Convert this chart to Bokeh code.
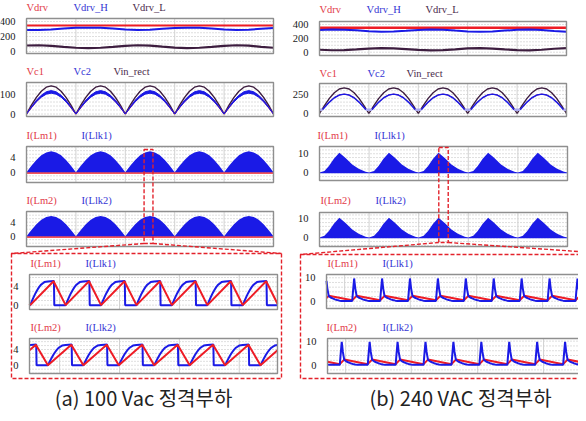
import numpy as np
from bokeh.plotting import figure
from bokeh.models import Range1d
from bokeh.embed import file_html
from bokeh.resources import INLINE
from bokeh.core.properties import value

# ===================== DATA =====================
# full-scale panels: time in ms, 5 rectified half cycles of 10 ms each
t_slow = [0, 2.5, 5, 7.5, 10, 12.5, 15, 17.5, 20, 22.5, 25, 27.5, 30, 32.5,
          35, 37.5, 40, 42.5, 45, 47.5, 50]
t_flat = [0, 50]
hump_phase = [0, 1, 2, 3, 4, 5, 6, 7, 8, 9, 10]

# ---- (a) 100 Vac ----
a_vdrv = [347, 347]
a_vdrv_h = [288, 285, 292, 305, 315, 318, 315, 305, 292, 285, 290, 303, 314,
            318, 315, 305, 292, 285, 290, 304, 314]
a_vdrv_l = [80, 83, 76, 62, 50, 45, 50, 62, 76, 83, 78, 64, 51, 45, 50, 62,
            76, 83, 77, 62, 50]
a_vin = [0, 44, 83, 114, 134, 141, 134, 114, 83, 44, 0]
a_vc1 = [0, 33, 64, 88, 104, 110, 104, 88, 64, 33, 0]
a_vc2_hi = [0, 36, 69, 94, 111, 117, 111, 94, 69, 36, 0]
a_vc2_lo = [0, 32, 61, 84, 99, 104, 99, 84, 61, 32, 0]
a_ilk_env = [0, 1.8, 3.4, 4.7, 5.5, 5.8, 5.5, 4.7, 3.4, 1.8, 0]
a_ilm_base = [-0.2, -0.2]
a_zoom_win = [23.8, 25.6]
# zoomed switching waveforms (period = 10 us)
a_lm_ph = [0, 6.6, 10]
a_lm = [0, 5.2, 0]
a_lk_ph = [0, 0.5, 1, 1.5, 2, 2.5, 3, 3.5, 4, 5, 6.7, 6.8, 10]
a_lk = [0, 0.9, 1.8, 2.6, 3.3, 3.9, 4.4, 4.7, 5.0, 5.15, 5.25, 0, 0]
a_z1_start, a_z2_start = 9.8, 4.8

# ---- (b) 240 VAC ----
b_vdrv = [352, 352]
b_vdrv_h = [322, 328, 325, 315, 302, 295, 298, 308, 320, 327, 325, 312, 300,
            295, 300, 312, 323, 328, 320, 305, 296]
b_vdrv_l = [35, 28, 30, 40, 52, 58, 55, 45, 33, 27, 30, 42, 55, 58, 52, 40,
            30, 27, 35, 50, 58]
b_vin = [0, 105, 199, 274, 322, 338, 322, 274, 199, 105, 0]
b_vc_ph = [0.6, 1, 2, 3, 4, 5, 6, 7, 8, 9, 9.4]
b_vc2 = [50, 80, 150, 207, 243, 255, 243, 207, 150, 80, 50]
b_vc_floor = 50
b_vc_floor_half = 0.6
b_ilk_ph = [0, 1, 1.9, 2.9, 4.0, 5.2, 6.6, 7.9, 9.3, 10]
b_ilk_env = [0.1, 1.0, 3.5, 7.4, 10.5, 7.9, 4.4, 2.1, 0.5, 0.1]
b_zoom_win = [24.05, 25.95]
b_lm_ph = [0, 1.6, 10]
b_lm = [0.4, 2.3, 0.4]
b_lk_ph = [0, 0.35, 0.7, 1.1, 1.6, 2.3, 3.0, 3.8, 4.6, 5.5, 6.3, 10]
b_lk = [0.1, 5.0, 9.7, 5.5, 2.2, 1.6, 1.2, 0.8, 0.5, 0.25, 0.1, 0.1]
b_z1_start, b_z2_start = 0.8, 5.6

captions = ["(a) 100 Vac 정격부하", "(b) 240 VAC 정격부하"]

# ===================== STYLE / LAYOUT =====================
RED, BLUE, DARK = "#ee1c25", "#1a1ae6", "#3d1d3f"
L_RED, L_BLUE, L_DARK = "#e23a48", "#3434d4", "#4a2a4c"
SERIF = value("Liberation Serif")

FIG_W, FIG_H = 578, 413
PX0, PY0 = 6, 6
PX1, PY1 = PX0 + FIG_W, PY0 + FIG_H

# panel: name -> (box L,R,T,B in page px, x range, y range, x grid, y grid, ticks)
panels = {
    "aP1": ((32, 279, 24, 59), (0, 50), (-27, 440), [10, 20, 30, 40], list(range(0, 401, 50)), [0, 200, 400]),
    "aP2": ((32, 279, 88, 122), (0, 50), (-12.5, 157.5), [10, 20, 30, 40], list(range(0, 141, 20)), [0, 100]),
    "aP3": ((32, 279, 152, 188), (0, 50), (-2.85, 7.15), [10, 20, 30, 40], list(range(-2, 8)), [0, 4]),
    "aP4": ((32, 279, 217, 252), (0, 50), (-2.95, 7.05), [10, 20, 30, 40], list(range(-2, 8)), [0, 4]),
    "aZ1": ((35, 283, 280, 315), (0, 70), (-0.95, 6.65), [8.5, 25.4, 42.3, 59.2], list(range(0, 7)), [0, 4]),
    "aZ2": ((35, 283, 344, 379), (0, 70), (-2.1, 6.8), [8.5, 25.4, 42.3, 59.2], list(range(-2, 7)), [0, 4]),
    "bP1": ((325, 572, 27, 61), (0, 50), (-47.6, 443), [10, 20, 30, 40], list(range(0, 401, 50)), [0, 200, 400]),
    "bP2": ((325, 572, 89, 122), (0, 50), (-39.5, 395), [10, 20, 30, 40], list(range(0, 351, 50)), [0, 250]),
    "bP3": ((325, 573, 152, 186), (0, 50), (-4.05, 13.8), [10, 20, 30, 40], list(range(-4, 14, 2)), [0, 10]),
    "bP4": ((325, 573, 218, 252), (0, 50), (-4.6, 13.3), [10, 20, 30, 40], list(range(-4, 13, 2)), [0, 10]),
    "bZ1": ((332, 600, 280, 314), (0, 96), (-3.1, 11.4), [6.5, 30.0, 53.8, 77.4], list(range(-2, 11, 2)), [0, 10]),
    "bZ2": ((333, 601, 344, 379), (0, 96), (-3.5, 11.1), [6.5, 30.0, 53.8, 77.4], list(range(-2, 11, 2)), [0, 10]),
}

p = figure(width=FIG_W, height=FIG_H, x_range=Range1d(PX0, PX1), y_range=Range1d(PY1, PY0),
           output_backend="svg", toolbar_location=None, min_border=0,
           x_axis_location=None, y_axis_location=None)
p.grid.visible = False
p.outline_line_color = None
p.background_fill_color = "white"

xr_extra, yr_extra = {}, {}
for name, (box, xr, yr, *_rest) in panels.items():
    L, R, T, B = box
    kx = (xr[1] - xr[0]) / (R - L)
    ky = (yr[1] - yr[0]) / (B - T)
    xr_extra[name] = Range1d(xr[0] - kx * (L - PX0), xr[0] + kx * (PX1 - L))
    yr_extra[name] = Range1d(yr[0] - ky * (PY1 - B), yr[1] + ky * (T - PY0))
p.extra_x_ranges = xr_extra
p.extra_y_ranges = yr_extra


def page_x(name, v):
    (L, R, T, B), xr = panels[name][0], panels[name][1]
    return L + (v - xr[0]) * (R - L) / (xr[1] - xr[0])


def tile(ph, vals, start, xmax, period=10.0):
    ph = np.asarray(ph, float)
    vals = np.asarray(vals, float)
    xs, ys = [], []
    for k in range(-1, int(xmax / period) + 2):
        xs.append(ph + k * period - start)
        ys.append(vals)
    x = np.concatenate(xs)
    y = np.concatenate(ys)
    keep = np.r_[True, np.diff(x) > 1e-9]
    x, y = x[keep], y[keep]
    inside = (x > 0) & (x < xmax)
    xe = [0.0] + list(x[inside]) + [float(xmax)]
    ye = [float(np.interp(0, x, y))] + list(y[inside]) + [float(np.interp(xmax, x, y))]
    return xe, ye


def kw(name):
    return dict(x_range_name=name, y_range_name=name)


# ---- grids ----
for name, (box, xr, yr, xg, yg, ticks) in panels.items():
    p.segment(x0=[xr[0]] * len(yg), x1=[xr[1]] * len(yg), y0=yg, y1=yg,
              line_color="#bdbdbd", line_dash="1 2", line_width=1, **kw(name))
    p.segment(x0=xg, x1=xg, y0=[yr[0]] * len(xg), y1=[yr[1]] * len(xg),
              line_color="#d2d2d2", line_width=1, **kw(name))

# ---- (a) full-scale waveforms ----
p.line(t_flat, a_vdrv, line_color=RED, line_width=2, **kw("aP1"))
p.line(t_slow, a_vdrv_h, line_color=BLUE, line_width=2, **kw("aP1"))
p.line(t_slow, a_vdrv_l, line_color=DARK, line_width=2.2, **kw("aP1"))

x, y = tile(hump_phase, a_vin, 0, 50)
p.line(x, y, line_color=DARK, line_width=1.4, **kw("aP2"))
x, y = tile(hump_phase, a_vc1, 0, 50)
p.line(x, y, line_color=RED, line_width=1.2, **kw("aP2"))
x, yl = tile(hump_phase, a_vc2_lo, 0, 50)
x, yh = tile(hump_phase, a_vc2_hi, 0, 50)
p.varea(x=x, y1=yl, y2=yh, fill_color=BLUE, **kw("aP2"))
p.line(x, yh, line_color=BLUE, line_width=1, **kw("aP2"))
p.line(x, yl, line_color=BLUE, line_width=1, **kw("aP2"))

for nm in ("aP3", "aP4"):
    p.line(t_flat, a_ilm_base, line_color=RED, line_width=1.5, **kw(nm))
    x, y = tile(hump_phase, a_ilk_env, 0, 50)
    p.varea(x=x, y1=[0.0] * len(x), y2=y, fill_color=BLUE, **kw(nm))

# ---- (b) full-scale waveforms ----
p.line(t_flat, b_vdrv, line_color=RED, line_width=2.6, **kw("bP1"))
p.line(t_slow, b_vdrv_h, line_color=BLUE, line_width=2, **kw("bP1"))
p.line(t_slow, b_vdrv_l, line_color=DARK, line_width=2.2, **kw("bP1"))

x, y = tile(hump_phase, b_vin, 0, 50)
p.line(x, y, line_color=DARK, line_width=1.4, **kw("bP2"))
vc_x = [[ph + 10 * k for ph in b_vc_ph] for k in range(5)]
vc_y = [b_vc2 for k in range(5)]
p.multi_line(vc_x, vc_y, line_color=RED, line_width=1, **kw("bP2"))
p.multi_line(vc_x, vc_y, line_color=BLUE, line_width=1.5, **kw("bP2"))
fl_x0 = [max(0, 10 * k - b_vc_floor_half) for k in range(6)]
fl_x1 = [min(50, 10 * k + b_vc_floor_half) for k in range(6)]
p.segment(x0=fl_x0, x1=fl_x1, y0=[b_vc_floor] * 6, y1=[b_vc_floor] * 6,
          line_color="#a9a9f0", line_width=2.5, **kw("bP2"))

for nm in ("bP3", "bP4"):
    x, y = tile(b_ilk_ph, b_ilk_env, 0, 50)
    p.varea(x=x, y1=[-0.3] * len(x), y2=y, fill_color=BLUE, **kw(nm))

# ---- zoomed switching waveforms ----
for nm, st in (("aZ1", a_z1_start), ("aZ2", a_z2_start)):
    x, y = tile(a_lk_ph, a_lk, st, 70)
    p.line(x, y, line_color=BLUE, line_width=2, **kw(nm))
    x, y = tile(a_lm_ph, a_lm, st, 70)
    p.line(x, y, line_color=RED, line_width=2, **kw(nm))
for nm, st in (("bZ1", b_z1_start), ("bZ2", b_z2_start)):
    x, y = tile(b_lm_ph, b_lm, st, 96)
    p.line(x, y, line_color=RED, line_width=2, **kw(nm))
    x, y = tile(b_lk_ph, b_lk, st, 96)
    p.line(x, y, line_color=BLUE, line_width=2, **kw(nm))

# ---- panel borders and tick labels ----
for name, (box, xr, yr, xg, yg, ticks) in panels.items():
    p.quad(left=[xr[0]], right=[xr[1]], bottom=[yr[0]], top=[yr[1]], fill_color=None,
           line_color="#8f8f8f", line_width=1.4, **kw(name))
    p.text(x=[box[0] - 11] * len(ticks), y=ticks, text=[str(t) for t in ticks],
           y_range_name=name, text_align="right", text_baseline="middle",
           text_font=SERIF, text_font_size="10.5px", text_color="#1a1a1a")

# ---- series labels above each panel ----
labels = [
    ("Vdrv", 32, 13, L_RED), ("Vdrv_H", 79, 13, L_BLUE), ("Vdrv_L", 138, 13, L_DARK),
    ("Vc1", 32, 77, L_RED), ("Vc2", 79, 77, L_BLUE), ("Vin_rect", 119, 77, L_DARK),
    ("I(Lm1)", 32, 141, L_RED), ("I(Llk1)", 87, 141, L_BLUE),
    ("I(Lm2)", 32, 206, L_RED), ("I(Llk2)", 87, 206, L_BLUE),
    ("I(Lm1)", 36, 269, L_RED), ("I(Llk1)", 91, 269, L_BLUE),
    ("I(Lm2)", 36, 333, L_RED), ("I(Llk2)", 91, 333, L_BLUE),
    ("Vdrv", 325, 15, L_RED), ("Vdrv_H", 372, 15, L_BLUE), ("Vdrv_L", 431, 15, L_DARK),
    ("Vc1", 325, 79, L_RED), ("Vc2", 373, 79, L_BLUE), ("Vin_rect", 412, 79, L_DARK),
    ("I(Lm1)", 323, 141, L_RED), ("I(Llk1)", 380, 141, L_BLUE),
    ("I(Lm2)", 326, 206, L_RED), ("I(Llk2)", 381, 206, L_BLUE),
    ("I(Lm1)", 333, 269, L_RED), ("I(Llk1)", 388, 269, L_BLUE),
    ("I(Lm2)", 332, 333, L_RED), ("I(Llk2)", 388, 333, L_BLUE),
]
p.text(x=[l[1] for l in labels], y=[l[2] for l in labels], text=[l[0] for l in labels],
       text_color=[l[3] for l in labels], text_align="left", text_baseline="middle",
       text_font=SERIF, text_font_size="10.5px")

# ---- zoom markers (red dashed) ----
DASH = dict(line_color="#e3222b", line_dash="4 2", line_width=1.4)
# narrow windows spanning the two current panels
p.quad(left=[a_zoom_win[0]], right=[a_zoom_win[1]], top=[155], bottom=[249], fill_color=None,
       x_range_name="aP3", **DASH)
p.quad(left=[b_zoom_win[0]], right=[b_zoom_win[1]], top=[153], bottom=[248], fill_color=None,
       x_range_name="bP3", **DASH)
# enlarged boxes
p.quad(left=[17, 306], right=[287, 598], top=[259, 260], bottom=[384, 384], fill_color=None, **DASH)
# connectors
ax0, ax1 = page_x("aP3", a_zoom_win[0]), page_x("aP3", a_zoom_win[1])
bx0, bx1 = page_x("bP3", b_zoom_win[0]), page_x("bP3", b_zoom_win[1])
p.segment(x0=[ax0, ax1, bx0, bx1], y0=[249, 249, 248, 248],
          x1=[17, 287, 306, 598], y1=[259, 259, 260, 258], **DASH)

# ---- captions ----
p.text(x=[149, 466], y=[403, 403], text=captions, text_align="center", text_baseline="middle",
       text_font=value("Noto Sans CJK KR"), text_font_size="20px", text_color="#222222")

open("out.html", "w").write(file_html(p, INLINE))
